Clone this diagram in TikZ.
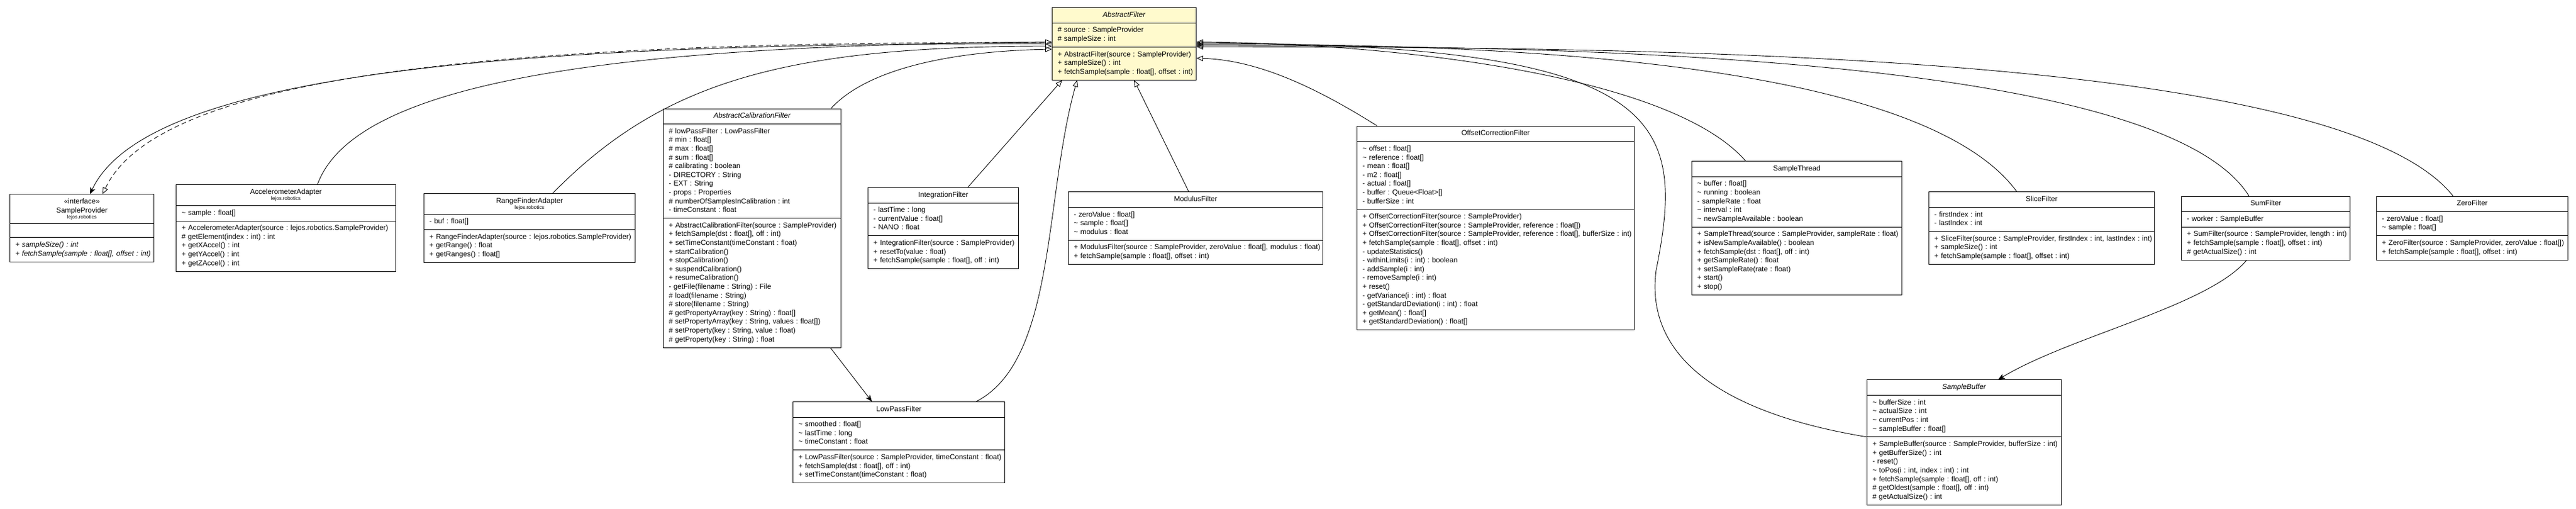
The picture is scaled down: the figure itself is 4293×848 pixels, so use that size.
\documentclass[tikz,border=0pt]{standalone}
\usepackage{fontspec}
\setmainfont{Liberation Sans}
\usetikzlibrary{shapes.multipart,arrows.meta}
\definecolor{lemon}{RGB}{255,250,205}
\frenchspacing
\def\rw#1{\mbox{\strut#1}\par}
\def\pk{\fontsize{8.4}{10.2}\selectfont}
\def\hd{\centering}
\def\pv{\textasciitilde{} }

\begin{document}
\begin{tikzpicture}[x=1pt,y=-1pt,
    cls/.style={draw,line width=1pt,rectangle split,rectangle split parts=3,
      anchor=west,inner xsep=9pt,inner ysep=5pt,align=left,
      font={\fontsize{12}{14.6}\selectfont\lineskiplimit=-20pt\frenchspacing}},
    inh/.style={line width=.9pt,-{Triangle[open,length=11pt,width=9pt]}},
    real/.style={inh,dash pattern=on 8pt off 5pt},
    assoc/.style={line width=.9pt,-{Stealth[length=11pt,width=9pt,inset=3pt]}}]
\useasboundingbox (0,0) rectangle (4293,848);
  \node [cls,fill=lemon,anchor=north west,text width=222pt] at (1753,12) (af) {\hd\rw{\textit{AbstractFilter}}
\nodepart{two}\rw{\# source : SampleProvider}
\rw{\# sampleSize : int}
\nodepart{three}\rw{+ AbstractFilter(source : SampleProvider)}
\rw{+ sampleSize() : int}
\rw{+ fetchSample(sample : float[], offset : int)}};
   \node [cls,text width=222pt] at (16,380) (sp) {\hd\rw{«interface»}
\rw{SampleProvider}
{\pk\rw{lejos.robotics}}
\nodepart{two}\rule{0pt}{12pt}
\nodepart{three}\rw{\textit{+ sampleSize() : int}}
\rw{\textit{+ fetchSample(sample : float[], offset : int)}}};
    \node [cls,text width=348pt] at (293,380) (acc) {\hd\rw{AccelerometerAdapter}
{\pk\rw{lejos.robotics}}
\nodepart{two}\rw{\pv sample : float[]}
\nodepart{three}\rw{+ AccelerometerAdapter(source : lejos.robotics.SampleProvider)}
\rw{\# getElement(index : int) : int}
\rw{+ getXAccel() : int}
\rw{+ getYAccel() : int}
\rw{+ getZAccel() : int}};
     \node [cls,text width=334pt] at (706,380) (rfa) {\hd\rw{RangeFinderAdapter}
{\pk\rw{lejos.robotics}}
\nodepart{two}\rw{- buf : float[]}
\nodepart{three}\rw{+ RangeFinderAdapter(source : lejos.robotics.SampleProvider)}
\rw{+ getRange() : float}
\rw{+ getRanges() : float[]}};
      \node [cls,text width=278pt] at (1105,380) (acf) {\hd\rw{\textit{AbstractCalibrationFilter}}
\nodepart{two}\rw{\# lowPassFilter : LowPassFilter}
\rw{\# min : float[]}
\rw{\# max : float[]}
\rw{\# sum : float[]}
\rw{\# calibrating : boolean}
\rw{- DIRECTORY : String}
\rw{- EXT : String}
\rw{- props : Properties}
\rw{\# numberOfSamplesInCalibration : int}
\rw{- timeConstant : float}
\nodepart{three}\rw{+ AbstractCalibrationFilter(source : SampleProvider)}
\rw{+ fetchSample(dst : float[], off : int)}
\rw{+ setTimeConstant(timeConstant : float)}
\rw{+ startCalibration()}
\rw{+ stopCalibration()}
\rw{+ suspendCalibration()}
\rw{+ resumeCalibration()}
\rw{- getFile(filename : String) : File}
\rw{\# load(filename : String)}
\rw{\# store(filename : String)}
\rw{\# getPropertyArray(key : String) : float[]}
\rw{\# setPropertyArray(key : String, values : float[])}
\rw{\# setProperty(key : String, value : float)}
\rw{\# getProperty(key : String) : float}};
       \node [cls,text width=233pt] at (1446,380) (intf) {\hd\rw{IntegrationFilter}
\nodepart{two}\rw{- lastTime : long}
\rw{- currentValue : float[]}
\rw{- NANO : float}
\nodepart{three}\rw{+ IntegrationFilter(source : SampleProvider)}
\rw{+ resetTo(value : float)}
\rw{+ fetchSample(sample : float[], off : int)}};
        \node [cls,text width=406pt] at (1780,380) (modf) {\hd\rw{ModulusFilter}
\nodepart{two}\rw{- zeroValue : float[]}
\rw{\pv sample : float[]}
\rw{\pv modulus : float}
\nodepart{three}\rw{+ ModulusFilter(source : SampleProvider, zeroValue : float[], modulus : float)}
\rw{+ fetchSample(sample : float[], offset : int)}};
         \node [cls,text width=444pt] at (2261,380) (ocf) {\hd\rw{OffsetCorrectionFilter}
\nodepart{two}\rw{\pv offset : float[]}
\rw{\pv reference : float[]}
\rw{- mean : float[]}
\rw{- m2 : float[]}
\rw{- actual : float[]}
\rw{- buffer : Queue<Float>[]}
\rw{- bufferSize : int}
\nodepart{three}\rw{+ OffsetCorrectionFilter(source : SampleProvider)}
\rw{+ OffsetCorrectionFilter(source : SampleProvider, reference : float[])}
\rw{+ OffsetCorrectionFilter(source : SampleProvider, reference : float[], bufferSize : int)}
\rw{+ fetchSample(sample : float[], offset : int)}
\rw{- updateStatistics()}
\rw{- withinLimits(i : int) : boolean}
\rw{- addSample(i : int)}
\rw{- removeSample(i : int)}
\rw{+ reset()}
\rw{- getVariance(i : int) : float}
\rw{- getStandardDeviation(i : int) : float}
\rw{+ getMean() : float[]}
\rw{+ getStandardDeviation() : float[]}};
          \node [cls,text width=332pt] at (2819,380) (sthr) {\hd\rw{SampleThread}
\nodepart{two}\rw{\pv buffer : float[]}
\rw{\pv running : boolean}
\rw{- sampleRate : float}
\rw{\pv interval : int}
\rw{\pv newSampleAvailable : boolean}
\nodepart{three}\rw{+ SampleThread(source : SampleProvider, sampleRate : float)}
\rw{+ isNewSampleAvailable() : boolean}
\rw{+ fetchSample(dst : float[], off : int)}
\rw{+ getSampleRate() : float}
\rw{+ setSampleRate(rate : float)}
\rw{+ start()}
\rw{+ stop()}};
           \node [cls,text width=358pt] at (3214,380) (slf) {\hd\rw{SliceFilter}
\nodepart{two}\rw{- firstIndex : int}
\rw{- lastIndex : int}
\nodepart{three}\rw{+ SliceFilter(source : SampleProvider, firstIndex : int, lastIndex : int)}
\rw{+ sampleSize() : int}
\rw{+ fetchSample(sample : float[], offset : int)}};
            \node [cls,text width=263pt] at (3635,380) (sumf) {\hd\rw{SumFilter}
\nodepart{two}\rw{- worker : SampleBuffer}
\nodepart{three}\rw{+ SumFilter(source : SampleProvider, length : int)}
\rw{+ fetchSample(sample : float[], offset : int)}
\rw{\# getActualSize() : int}};
             \node [cls,text width=301pt] at (3960,380) (zerf) {\hd\rw{ZeroFilter}
\nodepart{two}\rw{- zeroValue : float[]}
\rw{\pv sample : float[]}
\nodepart{three}\rw{+ ZeroFilter(source : SampleProvider, zeroValue : float[])}
\rw{+ fetchSample(sample : float[], offset : int)}};
              \node [cls,text width=335pt] at (1321,737) (lpf) {\hd\rw{LowPassFilter}
\nodepart{two}\rw{\pv smoothed : float[]}
\rw{\pv lastTime : long}
\rw{\pv timeConstant : float}
\nodepart{three}\rw{+ LowPassFilter(source : SampleProvider, timeConstant : float)}
\rw{+ fetchSample(dst : float[], off : int)}
\rw{+ setTimeConstant(timeConstant : float)}};
               \node [cls,text width=306pt] at (3111,737) (sbuf) {\hd\rw{\textit{SampleBuffer}}
\nodepart{two}\rw{\pv bufferSize : int}
\rw{\pv actualSize : int}
\rw{\pv currentPos : int}
\rw{\pv sampleBuffer : float[]}
\nodepart{three}\rw{+ SampleBuffer(source : SampleProvider, bufferSize : int)}
\rw{+ getBufferSize() : int}
\rw{- reset()}
\rw{\pv toPos(i : int, index : int) : int}
\rw{+ fetchSample(sample : float[], off : int)}
\rw{\# getOldest(sample : float[], off : int)}
\rw{\# getActualSize() : int}};
%
%
\draw[assoc] ([yshift=-61pt]af.north west) .. controls (800,70) and (240,130) .. ([xshift=134pt]sp.north west);
\draw[real] ([yshift=-59pt]af.north west) .. controls (820,68) and (265,125) .. ([xshift=155pt]sp.north west);
\draw[inh] ([xshift=236pt]acc.north west) .. controls (590,140) and (1000,75) .. ([yshift=-58pt]af.north west);
\draw[inh] ([xshift=215pt]rfa.north west) .. controls (1100,140) and (1300,77) .. ([yshift=-65pt]af.north west);
\draw[inh] ([xshift=280pt]acf.north west) .. controls (1450,110) and (1600,85) .. ([yshift=-70pt]af.north west);
\draw[inh] ([xshift=167pt]intf.north west) -- ([xshift=17pt]af.south west);
\draw[inh] ([xshift=306pt]lpf.north west) .. controls (1760,600) and (1740,330) .. ([xshift=42pt]af.south west);
\draw[inh] ([xshift=201pt]modf.north west) -- ([xshift=137pt]af.south west);
\draw[inh] ([xshift=34pt]ocf.north west) .. controls (2200,150) and (2100,100) .. ([yshift=-85pt]af.north east);
\draw[inh] ([xshift=90pt]sthr.north west) .. controls (2780,120) and (2300,72) .. ([yshift=-58pt]af.north east);
\draw[inh] (sbuf.two split west) .. controls (2880,690) and (2740,600) .. (2760,450) .. controls (2810,200) and (2780,72) .. ([yshift=-60pt]af.north east);
\draw[inh] ([xshift=147pt]slf.north west) .. controls (3200,100) and (2500,72) .. ([yshift=-62pt]af.north east);
\draw[inh] ([xshift=113pt]sumf.north west) .. controls (3600,90) and (2600,76) .. ([yshift=-64pt]af.north east);
\draw[inh] ([xshift=128pt]zerf.north west) .. controls (3900,90) and (2800,78) .. ([yshift=-66pt]af.north east);
\draw[assoc] ([xshift=279pt]acf.south west) -- ([xshift=132pt]lpf.north west);
\draw[assoc] ([xshift=109pt]sumf.south west) .. controls (3680,510) and (3450,560) .. ([xshift=219pt]sbuf.north west);

\end{tikzpicture}
\end{document}
